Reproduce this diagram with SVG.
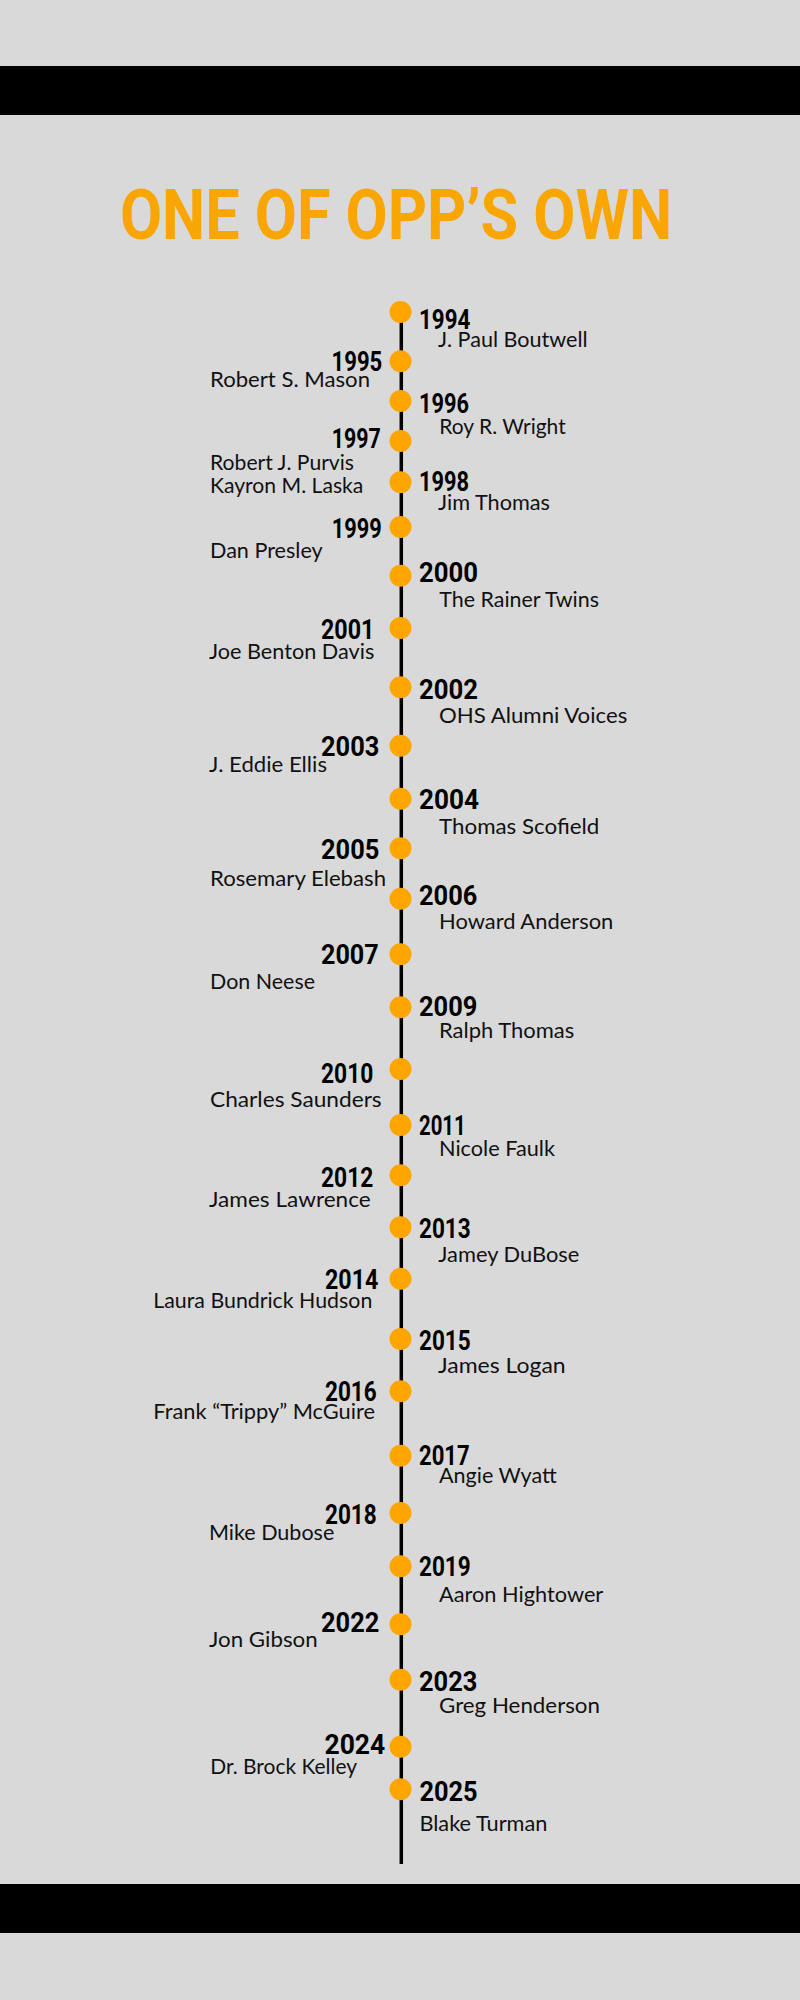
<svg xmlns="http://www.w3.org/2000/svg" width="800" height="2000" viewBox="0 0 800 2000">
<style>
.yr{font-family:Roboto,"Liberation Sans",sans-serif;font-weight:700;font-size:27.5px;fill:#000}
.nm{font-family:Lato,"Liberation Sans",sans-serif;font-weight:400;font-size:22px;fill:#111}
.l{text-anchor:end}
.dot{fill:#FFA500}
</style>
<rect x="0" y="0" width="800" height="2000" fill="#D9D9D9"/>
<rect x="0" y="66" width="800" height="49" fill="#000"/>
<rect x="0" y="1884" width="800" height="49" fill="#000"/>
<text x="120" y="239" font-family="Roboto,'Liberation Sans',sans-serif" font-weight="700" font-size="70" fill="#F9A602" textLength="552" lengthAdjust="spacingAndGlyphs">ONE OF OPP’S OWN</text>
<g id="connectors">
<line x1="401.3" y1="312" x2="401.3" y2="1864" stroke="#000" stroke-width="3.5"/>
</g>
<g id="n1994"><circle class="dot" cx="400.5" cy="312" r="11"/><text class="yr" x="419" y="329" textLength="51.3" lengthAdjust="spacingAndGlyphs">1994</text><text class="nm" x="438" y="346.7" textLength="149.7" lengthAdjust="spacingAndGlyphs">J. Paul Boutwell</text></g>
<g id="n1995"><circle class="dot" cx="400.5" cy="361.3" r="11"/><text class="yr l" x="382.3" y="371" textLength="50.7" lengthAdjust="spacingAndGlyphs">1995</text><text class="nm" x="210" y="386.7" textLength="160" lengthAdjust="spacingAndGlyphs">Robert S. Mason</text></g>
<g id="n1996"><circle class="dot" cx="400.5" cy="401" r="11"/><text class="yr" x="419" y="413.3" textLength="50" lengthAdjust="spacingAndGlyphs">1996</text><text class="nm" x="439.3" y="434" textLength="126.4" lengthAdjust="spacingAndGlyphs">Roy R. Wright</text></g>
<g id="n1997"><circle class="dot" cx="400.5" cy="441" r="11"/><text class="yr l" x="380.7" y="448.3" textLength="49" lengthAdjust="spacingAndGlyphs">1997</text><text class="nm" x="210" y="470.3" textLength="144" lengthAdjust="spacingAndGlyphs">Robert J. Purvis</text><text class="nm" x="210" y="493.3" textLength="153.3" lengthAdjust="spacingAndGlyphs">Kayron M. Laska</text></g>
<g id="n1998"><circle class="dot" cx="400.5" cy="482.3" r="11"/><text class="yr" x="419" y="491" textLength="50" lengthAdjust="spacingAndGlyphs">1998</text><text class="nm" x="438" y="510" textLength="112" lengthAdjust="spacingAndGlyphs">Jim Thomas</text></g>
<g id="n1999"><circle class="dot" cx="400.5" cy="527" r="11"/><text class="yr l" x="381.7" y="538.3" textLength="50" lengthAdjust="spacingAndGlyphs">1999</text><text class="nm" x="210" y="558.3" textLength="112.7" lengthAdjust="spacingAndGlyphs">Dan Presley</text></g>
<g id="n2000"><circle class="dot" cx="400.5" cy="575.7" r="11"/><text class="yr" x="419" y="581.7" textLength="59" lengthAdjust="spacingAndGlyphs">2000</text><text class="nm" x="439.3" y="606.7" textLength="159.7" lengthAdjust="spacingAndGlyphs">The Rainer Twins</text></g>
<g id="n2001"><circle class="dot" cx="400.5" cy="628" r="11"/><text class="yr l" x="374.3" y="639" textLength="53.3" lengthAdjust="spacingAndGlyphs">2001</text><text class="nm" x="209" y="659" textLength="165.3" lengthAdjust="spacingAndGlyphs">Joe Benton Davis</text></g>
<g id="n2002"><circle class="dot" cx="400.5" cy="687.3" r="11"/><text class="yr" x="419" y="699.3" textLength="59" lengthAdjust="spacingAndGlyphs">2002</text><text class="nm" x="439" y="722.7" textLength="188.3" lengthAdjust="spacingAndGlyphs">OHS Alumni Voices</text></g>
<g id="n2003"><circle class="dot" cx="400.5" cy="745.7" r="11"/><text class="yr l" x="379.3" y="756" textLength="58.3" lengthAdjust="spacingAndGlyphs">2003</text><text class="nm" x="209" y="772.3" textLength="118" lengthAdjust="spacingAndGlyphs">J. Eddie Ellis</text></g>
<g id="n2004"><circle class="dot" cx="400.5" cy="798.7" r="11"/><text class="yr" x="419" y="809.3" textLength="60" lengthAdjust="spacingAndGlyphs">2004</text><text class="nm" x="439" y="834" textLength="160.3" lengthAdjust="spacingAndGlyphs">Thomas Scofield</text></g>
<g id="n2005"><circle class="dot" cx="400.5" cy="848.3" r="11"/><text class="yr l" x="379.3" y="858.7" textLength="58.3" lengthAdjust="spacingAndGlyphs">2005</text><text class="nm" x="210" y="886" textLength="176" lengthAdjust="spacingAndGlyphs">Rosemary Elebash</text></g>
<g id="n2006"><circle class="dot" cx="400.5" cy="898.7" r="11"/><text class="yr" x="419" y="905.3" textLength="58.3" lengthAdjust="spacingAndGlyphs">2006</text><text class="nm" x="439" y="929.3" textLength="174.3" lengthAdjust="spacingAndGlyphs">Howard Anderson</text></g>
<g id="n2007"><circle class="dot" cx="400.5" cy="954.3" r="11"/><text class="yr l" x="378.7" y="964.3" textLength="57.7" lengthAdjust="spacingAndGlyphs">2007</text><text class="nm" x="210" y="989.3" textLength="105" lengthAdjust="spacingAndGlyphs">Don Neese</text></g>
<g id="n2009"><circle class="dot" cx="400.5" cy="1007.3" r="11"/><text class="yr" x="419" y="1015.7" textLength="58.3" lengthAdjust="spacingAndGlyphs">2009</text><text class="nm" x="439" y="1038.3" textLength="135.3" lengthAdjust="spacingAndGlyphs">Ralph Thomas</text></g>
<g id="n2010"><circle class="dot" cx="400.5" cy="1069" r="11"/><text class="yr l" x="373.3" y="1083.3" textLength="52.3" lengthAdjust="spacingAndGlyphs">2010</text><text class="nm" x="210" y="1106.7" textLength="171.7" lengthAdjust="spacingAndGlyphs">Charles Saunders</text></g>
<g id="n2011"><circle class="dot" cx="400.5" cy="1125" r="11"/><text class="yr" x="419" y="1135" textLength="46.7" lengthAdjust="spacingAndGlyphs">2011</text><text class="nm" x="439" y="1155.7" textLength="116" lengthAdjust="spacingAndGlyphs">Nicole Faulk</text></g>
<g id="n2012"><circle class="dot" cx="400.5" cy="1175.3" r="11"/><text class="yr l" x="373.3" y="1186.7" textLength="52.3" lengthAdjust="spacingAndGlyphs">2012</text><text class="nm" x="209" y="1206.7" textLength="161.7" lengthAdjust="spacingAndGlyphs">James Lawrence</text></g>
<g id="n2013"><circle class="dot" cx="400.5" cy="1227.3" r="11"/><text class="yr" x="419" y="1238.3" textLength="51.7" lengthAdjust="spacingAndGlyphs">2013</text><text class="nm" x="438.3" y="1262.3" textLength="141" lengthAdjust="spacingAndGlyphs">Jamey DuBose</text></g>
<g id="n2014"><circle class="dot" cx="400.5" cy="1278.7" r="11"/><text class="yr l" x="378.3" y="1289.3" textLength="53.3" lengthAdjust="spacingAndGlyphs">2014</text><text class="nm" x="153.3" y="1307.7" textLength="219" lengthAdjust="spacingAndGlyphs">Laura Bundrick Hudson</text></g>
<g id="n2015"><circle class="dot" cx="400.5" cy="1339" r="11"/><text class="yr" x="419" y="1350" textLength="51.7" lengthAdjust="spacingAndGlyphs">2015</text><text class="nm" x="438" y="1373.3" textLength="127.7" lengthAdjust="spacingAndGlyphs">James Logan</text></g>
<g id="n2016"><circle class="dot" cx="400.5" cy="1391.3" r="11"/><text class="yr l" x="376.7" y="1400.7" textLength="51.7" lengthAdjust="spacingAndGlyphs">2016</text><text class="nm" x="153.3" y="1419.3" textLength="221.7" lengthAdjust="spacingAndGlyphs">Frank “Trippy” McGuire</text></g>
<g id="n2017"><circle class="dot" cx="400.5" cy="1455.7" r="11"/><text class="yr" x="419" y="1465" textLength="50.7" lengthAdjust="spacingAndGlyphs">2017</text><text class="nm" x="439" y="1483.3" textLength="117.7" lengthAdjust="spacingAndGlyphs">Angie Wyatt</text></g>
<g id="n2018"><circle class="dot" cx="400.5" cy="1513" r="11"/><text class="yr l" x="376.7" y="1524" textLength="51.7" lengthAdjust="spacingAndGlyphs">2018</text><text class="nm" x="209" y="1540" textLength="125.3" lengthAdjust="spacingAndGlyphs">Mike Dubose</text></g>
<g id="n2019"><circle class="dot" cx="400.5" cy="1566.3" r="11"/><text class="yr" x="419" y="1575.7" textLength="51.7" lengthAdjust="spacingAndGlyphs">2019</text><text class="nm" x="439" y="1601.7" textLength="164.3" lengthAdjust="spacingAndGlyphs">Aaron Hightower</text></g>
<g id="n2022"><circle class="dot" cx="400.5" cy="1624.3" r="11"/><text class="yr l" x="379.3" y="1632.3" textLength="58.3" lengthAdjust="spacingAndGlyphs">2022</text><text class="nm" x="209" y="1647.3" textLength="108.7" lengthAdjust="spacingAndGlyphs">Jon Gibson</text></g>
<g id="n2023"><circle class="dot" cx="400.5" cy="1679.7" r="11"/><text class="yr" x="419" y="1690.7" textLength="58.3" lengthAdjust="spacingAndGlyphs">2023</text><text class="nm" x="439" y="1713.3" textLength="161" lengthAdjust="spacingAndGlyphs">Greg Henderson</text></g>
<g id="n2024"><circle class="dot" cx="400.5" cy="1746.7" r="11"/><text class="yr l" x="385.2" y="1754" textLength="60.7" lengthAdjust="spacingAndGlyphs">2024</text><text class="nm" x="210.2" y="1774" textLength="146.8" lengthAdjust="spacingAndGlyphs">Dr. Brock Kelley</text></g>
<g id="n2025"><circle class="dot" cx="400.5" cy="1789.3" r="11"/><text class="yr" x="419.4" y="1801" textLength="58.2" lengthAdjust="spacingAndGlyphs">2025</text><text class="nm" x="419.4" y="1830.7" textLength="128" lengthAdjust="spacingAndGlyphs">Blake Turman</text></g>
</svg>
